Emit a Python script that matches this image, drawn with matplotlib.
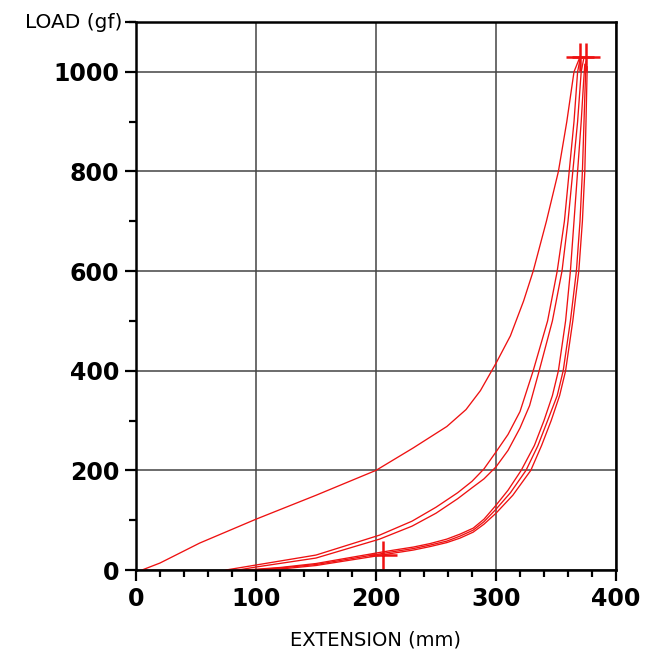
import matplotlib
matplotlib.use("Agg")
import matplotlib.pyplot as plt
from matplotlib.ticker import MultipleLocator

# first loading curve
load1_x = [5, 20, 53, 100, 150, 200, 231, 259, 275, 287, 300, 312, 323, 331, 342, 352, 359, 365, 370]
load1_y = [0, 14, 54, 102, 150, 200, 245, 288, 322, 360, 415, 470, 540, 600, 700, 800, 900, 1000, 1030]

# middle pair of curves
mid1_x = [75, 100, 150, 203, 230, 250, 268, 280, 290, 300, 310, 320, 331, 343, 351, 357, 361, 365, 368, 370]
mid1_y = [0, 10, 30, 70, 98, 126, 155, 178, 203, 237, 272, 318, 400, 500, 600, 700, 800, 900, 1000, 1025]
mid2_x = [85, 100, 150, 203, 230, 250, 268, 280, 290, 300, 310, 320, 328, 336, 347, 355, 360, 364, 368, 371, 373]
mid2_y = [0, 6, 24, 62, 88, 114, 143, 165, 183, 207, 240, 285, 330, 400, 500, 600, 700, 800, 900, 1000, 1025]

# lower group of three curves
low1_x = [92, 120, 150, 200, 215, 231, 245, 259, 270, 281, 290, 300, 310, 321, 332, 340, 347, 352, 358, 362, 365, 368, 371, 373, 374]
low1_y = [0, 5, 13, 34, 40, 46, 53, 62, 72, 84, 102, 130, 160, 200, 250, 300, 350, 400, 500, 600, 700, 800, 900, 980, 1015]
low2_x = [96, 120, 150, 200, 215, 231, 245, 259, 270, 281, 290, 300, 312, 325, 335, 343, 351, 356, 362, 367, 370, 372, 374, 375]
low2_y = [0, 4, 11, 31, 37, 43, 50, 58, 68, 80, 97, 122, 155, 200, 250, 300, 350, 400, 500, 600, 700, 800, 950, 1020]
low3_x = [100, 125, 150, 200, 215, 231, 245, 259, 270, 281, 290, 300, 314, 329, 338, 346, 353, 358, 364, 369, 372, 374, 375, 376]
low3_y = [0, 3, 9, 28, 34, 40, 47, 55, 64, 76, 92, 114, 150, 200, 250, 300, 350, 400, 500, 600, 700, 800, 900, 1010]

# cross markers
mark_x = [370, 375, 206]
mark_y = [1030, 1030, 30]

curves = [(load1_x, load1_y), (mid1_x, mid1_y), (mid2_x, mid2_y),
          (low1_x, low1_y), (low2_x, low2_y), (low3_x, low3_y)]

fig = plt.figure(figsize=(6.45, 6.61), dpi=100)
ax = fig.add_axes([136 / 645, 1 - 570 / 661, 480 / 645, 548 / 661])

for xs, ys in curves:
    ax.plot(xs, ys, color="#ee1111", lw=0.95)
ax.plot(mark_x, mark_y, "+", color="#ee1111", ms=20, mew=1.8, ls="none")

ax.set_xlim(0, 400)
ax.set_ylim(0, 1100)
ax.set_xticks([0, 100, 200, 300, 400])
ax.set_yticks([0, 200, 400, 600, 800, 1000])
ax.xaxis.set_minor_locator(MultipleLocator(20))
ax.yaxis.set_minor_locator(MultipleLocator(100))
ax.grid(True, which="major", color="#444444", lw=1.1)
ax.set_axisbelow(True)

for s in ax.spines.values():
    s.set_linewidth(1.8)
ax.tick_params(which="major", length=8, width=1.6, direction="out", pad=4)
ax.tick_params(which="minor", length=5, width=1.6, direction="out")
for lab in ax.get_xticklabels() + ax.get_yticklabels():
    lab.set_fontsize(17)
    lab.set_fontweight("bold")

# y label sits at the top end of the axis like a tick label
ax.plot([0], [1100], marker=0, ms=8, mew=1.6, color="black", clip_on=False)
ax.text(-0.028, 1.0, "LOAD (gf)", transform=ax.transAxes, ha="right", va="center", fontsize=14.5)
ax.set_xlabel("EXTENSION (mm)", fontsize=14, labelpad=14)

plt.savefig("out.png", dpi=100)
